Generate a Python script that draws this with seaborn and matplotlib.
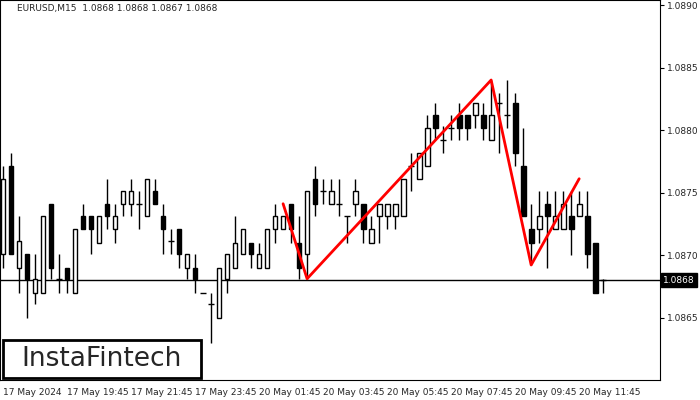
import matplotlib
matplotlib.use("Agg")
import matplotlib.pyplot as plt
from matplotlib.patches import Rectangle
import seaborn as sns

sns.set_style("white")
plt.rcParams['font.family'] = ['DejaVu Sans']

# OHLC, 15-minute candles
opens = [1.08701, 1.08771, 1.08690, 1.08701, 1.08670, 1.08670, 1.08741, 1.08681, 1.08690, 1.08670,
         1.08731, 1.08731, 1.08710, 1.08741, 1.08721, 1.08741, 1.08741, 1.08741, 1.08731, 1.08751,
         1.08731, 1.08711, 1.08721, 1.08690, 1.08690, 1.08670, 1.08661, 1.08650, 1.08681, 1.08690,
         1.08701, 1.08710, 1.08690, 1.08690, 1.08721, 1.08721, 1.08741, 1.08710, 1.08701, 1.08761,
         1.08751, 1.08741, 1.08741, 1.08731, 1.08741, 1.08741, 1.08710, 1.08731, 1.08731, 1.08731,
         1.08731, 1.08771, 1.08761, 1.08771, 1.08812, 1.08792, 1.08802, 1.08812, 1.08812, 1.08812,
         1.08812, 1.08792, 1.08822, 1.08812, 1.08822, 1.08771, 1.08721, 1.08721, 1.08741, 1.08721,
         1.08721, 1.08731, 1.08731, 1.08731, 1.08710, 1.08680]
highs = [1.08771, 1.08782, 1.08731, 1.08701, 1.08701, 1.08731, 1.08741, 1.08701, 1.08690, 1.08721,
         1.08741, 1.08731, 1.08731, 1.08761, 1.08741, 1.08751, 1.08761, 1.08751, 1.08761, 1.08761,
         1.08741, 1.08721, 1.08721, 1.08701, 1.08701, 1.08670, 1.08670, 1.08690, 1.08701, 1.08731,
         1.08721, 1.08710, 1.08710, 1.08721, 1.08741, 1.08731, 1.08741, 1.08731, 1.08751, 1.08771,
         1.08761, 1.08761, 1.08761, 1.08731, 1.08761, 1.08741, 1.08731, 1.08741, 1.08741, 1.08741,
         1.08761, 1.08782, 1.08782, 1.08812, 1.08822, 1.08803, 1.08812, 1.08822, 1.08812, 1.08822,
         1.08822, 1.08840, 1.08830, 1.08840, 1.08830, 1.08802, 1.08741, 1.08751, 1.08751, 1.08751,
         1.08751, 1.08751, 1.08751, 1.08751, 1.08710, 1.08681]
lows = [1.08690, 1.08701, 1.08670, 1.08650, 1.08661, 1.08670, 1.08681, 1.08670, 1.08670, 1.08670,
        1.08721, 1.08701, 1.08710, 1.08721, 1.08710, 1.08731, 1.08731, 1.08721, 1.08731, 1.08741,
        1.08701, 1.08701, 1.08690, 1.08681, 1.08670, 1.08670, 1.08630, 1.08650, 1.08670, 1.08690,
        1.08701, 1.08690, 1.08690, 1.08690, 1.08710, 1.08721, 1.08710, 1.08681, 1.08681, 1.08731,
        1.08741, 1.08741, 1.08731, 1.08710, 1.08731, 1.08710, 1.08710, 1.08710, 1.08721, 1.08721,
        1.08731, 1.08751, 1.08761, 1.08771, 1.08792, 1.08782, 1.08792, 1.08792, 1.08792, 1.08802,
        1.08792, 1.08792, 1.08782, 1.08802, 1.08771, 1.08731, 1.08692, 1.08710, 1.08690, 1.08721,
        1.08721, 1.08700, 1.08731, 1.08690, 1.08670, 1.08670]
closes = [1.08761, 1.08701, 1.08711, 1.08681, 1.08681, 1.08731, 1.08690, 1.08681, 1.08681, 1.08721,
          1.08721, 1.08721, 1.08731, 1.08731, 1.08731, 1.08751, 1.08751, 1.08741, 1.08761, 1.08741,
          1.08721, 1.08711, 1.08701, 1.08701, 1.08681, 1.08670, 1.08661, 1.08690, 1.08701, 1.08710,
          1.08721, 1.08701, 1.08701, 1.08721, 1.08731, 1.08731, 1.08721, 1.08690, 1.08751, 1.08741,
          1.08751, 1.08751, 1.08741, 1.08731, 1.08751, 1.08721, 1.08721, 1.08741, 1.08741, 1.08741,
          1.08761, 1.08771, 1.08782, 1.08802, 1.08802, 1.08792, 1.08802, 1.08802, 1.08802, 1.08822,
          1.08802, 1.08812, 1.08822, 1.08812, 1.08782, 1.08731, 1.08710, 1.08731, 1.08731, 1.08731,
          1.08741, 1.08721, 1.08741, 1.08701, 1.08670, 1.08680]

# pattern (red zigzag): candle index and price
zz_idx = [35, 38, 61, 66, 72]
zz_price = [1.08741, 1.08681, 1.08840, 1.08692, 1.08761]

last_price = 1.0868
tick_idx = [0, 8, 16, 24, 32, 40, 48, 56, 64, 72]
tick_labels = ['17 May 2024', '17 May 19:45', '17 May 21:45', '17 May 23:45', '20 May 01:45',
               '20 May 03:45', '20 May 05:45', '20 May 07:45', '20 May 09:45', '20 May 11:45']
y_ticks = [1.0865, 1.0870, 1.0875, 1.0880, 1.0885, 1.0890]

fig = plt.figure(figsize=(7, 4), dpi=100)
ax = fig.add_axes([0.0, 0.05, 660 / 700, 0.95])

for i, (o, h, l, c) in enumerate(zip(opens, highs, lows, closes)):
    ax.vlines(i, l, h, color='black', lw=1, zorder=2)
    if abs(c - o) < 1e-6:
        ax.hlines(o, i - 0.35, i + 0.35, color='black', lw=1, zorder=3)
    else:
        fc = 'white' if c > o else 'black'
        ax.bar(i, c - o, bottom=o, width=0.6, color=fc, edgecolor='black', lw=1, zorder=3)

ax.axhline(last_price, color='black', lw=1, zorder=1)
sns.lineplot(x=zz_idx, y=zz_price, ax=ax, color='#ff0000', lw=2, zorder=4)

ax.set_xlim(-0.375, 82.1)
ax.set_ylim(1.08600, 1.08904)
ax.yaxis.tick_right()
ax.set_yticks(y_ticks)
ax.set_yticklabels([f'{v:.4f}' for v in y_ticks], fontsize=6.5)
ax.set_xticks(tick_idx)
ax.set_xticklabels(tick_labels, fontsize=6.5, ha='left')
ax.tick_params(axis='both', length=3, width=0.8, color='black', pad=2)
ax.tick_params(axis='x', pad=3)
for s in ax.spines.values():
    s.set_color('black')
    s.set_linewidth(0.8)

ax.text(1.005, last_price, '1.0868', transform=ax.get_yaxis_transform(), fontsize=6.5,
        color='white', va='center', ha='left',
        bbox=dict(boxstyle='square,pad=0.25', fc='black', ec='black'))
ax.text(17 / 660, 0.99, 'EURUSD,M15  1.0868 1.0868 1.0867 1.0868', transform=ax.transAxes,
        fontsize=6.5, va='top', ha='left', zorder=6,
        bbox=dict(boxstyle='square,pad=0.1', fc='white', ec='none'))

# logo box
fig.patches.append(Rectangle((3 / 700, 1 - 378 / 400), 198 / 700, 38 / 400,
                             transform=fig.transFigure, fc='white', ec='black', lw=2, zorder=5))
fig.text(102 / 700, 1 - 359 / 400, 'InstaFintech', fontsize=19, ha='center', va='center', zorder=6)

fig.savefig('out.png', dpi=100)
